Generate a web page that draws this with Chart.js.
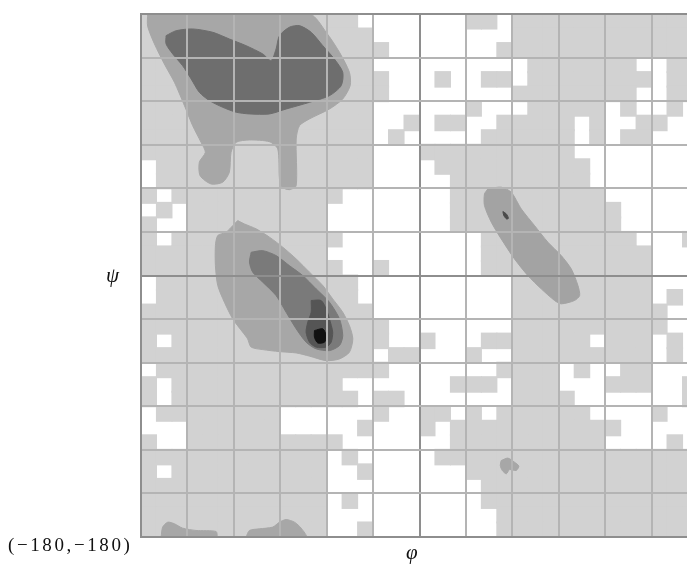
<!DOCTYPE html>
<html>
<head>
<meta charset="utf-8">
<script src="https://cdn.jsdelivr.net/npm/chart.js@4.4.1/dist/chart.umd.min.js"></script>
<style>
  html, body { margin: 0; padding: 0; background: #fff; overflow: hidden; }
  #wrap { position: absolute; left: 0; top: 0; width: 720px; height: 565px; }
  .lbl { position: absolute; font-family: "Liberation Serif", "DejaVu Serif", serif; color: #111; white-space: nowrap; line-height: 1; }
</style>
</head>
<body>
<div id="wrap"><canvas id="rama"></canvas></div>
<div class="lbl" style="left:106px; top:265px; font-size:21px; font-style:italic;">ψ</div>
<div class="lbl" style="left:406px; top:542px; font-size:21px; font-style:italic;">φ</div>
<div class="lbl" style="left:8px; top:535px; font-size:19px; letter-spacing:2.6px;">(−180,−180)</div>
<script>
// 10 degree cells, rows from psi=180 down to -180, columns phi -180 -> 180
// '1' = inside the outer (light) contour
const lightRows = [
  "111111111111110000000110111111111111",
  "111111111111111000000000111111111111",
  "111111111111111100000001111111111111",
  "111111111111111000000000011111110011",
  "111111111111111100010011011111111011",
  "111111111111111100000000111111110011",
  "111111111111111000000100011111010010",
  "111111111111111001011001111101001100",
  "111111111111111010000011111101011000",
  "111111111111111000111111111100000000",
  "011111111111111000011111111110000000",
  "011111111111111000001111111110000000",
  "101111111111100000001111111111000000",
  "010111111111000000001111111111100000",
  "100111111111000000001111111111100000",
  "101111111111100000000011111111110001",
  "111111111111000000000011111111111000",
  "111111111111100100000011111111111000",
  "011111111111110000000000111111111000",
  "011111111111110000000000111111111010",
  "111111111111111000000000111111111100",
  "111111111111111100000000111111111100",
  "101111111111111100100011111110111010",
  "111111111111111011000100111111111010",
  "011111111111111100000001111010011000",
  "101111111111100000001110111000111001",
  "101111111111110110000000111100000001",
  "011111111000000100110101111110000100",
  "000111111000001000101111111111100000",
  "100111111111100000001111111111000010",
  "111111111111010000011111111111111111",
  "101111111111001000000111111111111111",
  "111111111111000000000011111111111111",
  "111111111111010000000011111111111111",
  "111111111111000000000001111111111111",
  "111111111111001000000001111111111111"
];

// contour outlines, [phi, psi]
const betaMedium = [[-175.7,180],[-71.1,180],[-60.3,167.4],[-51.7,153.6],[-45.3,139.9],[-44.8,130.7],[-49.6,121.5],[-58.2,114.6],[-71.1,107.8],[-77.6,103.1],[-79.7,94.0],[-79.7,61.9],[-84.1,59.1],[-88.8,60.8],[-90.5,66.5],[-91.6,87.1],[-97.0,92.1],[-109.9,93.3],[-118.5,91.7],[-121.8,84.8],[-122.9,71.1],[-127.2,64.2],[-134.7,63.0],[-141.8,68.7],[-142.3,78.0],[-138.4,84.8],[-141.2,91.7],[-146.6,103.1],[-151.9,116.9],[-158.4,133.0],[-164.9,145.6],[-171.3,159.4],[-175.7,171.6]];
const betaDark = [[-163.8,165.1],[-157.3,168.5],[-146.6,169.7],[-133.6,167.4],[-122.9,162.8],[-112.1,158.2],[-101.3,152.5],[-95.9,147.9],[-92.7,155.9],[-90.5,165.1],[-84.1,170.9],[-77.6,172.0],[-70.0,167.4],[-62.5,158.2],[-55.0,149.0],[-49.6,139.9],[-50.6,130.7],[-58.2,123.8],[-71.1,119.2],[-86.2,114.6],[-97.0,111.2],[-109.9,111.2],[-118.5,112.4],[-127.2,115.8],[-135.8,120.4],[-142.3,126.1],[-147.6,135.3],[-153.1,144.4],[-159.5,152.5],[-163.8,159.4]];
const betaWrapA = [[-167.0,-180],[-166.0,-173.2],[-162.7,-169.8],[-158.4,-170.9],[-153.1,-173.9],[-144.4,-175.5],[-131.5,-176.2],[-131.2,-180]];
const betaWrapB = [[-112.1,-180],[-109.9,-175.5],[-103.5,-174.4],[-94.9,-173.2],[-90.5,-169.8],[-86.2,-168.0],[-80.8,-169.8],[-76.5,-173.9],[-73.3,-180]];
const alphaMedium = [[-117.5,37.8],[-113.2,35.5],[-105.6,32.1],[-97.0,26.4],[-88.4,19.5],[-79.7,11.4],[-71.1,2.3],[-62.5,-6.9],[-56.1,-16.1],[-49.6,-25.3],[-45.3,-34.5],[-43.1,-43.6],[-45.3,-52.8],[-51.7,-57.4],[-60.3,-58.6],[-71.1,-55.5],[-79.7,-53.3],[-90.5,-52.4],[-101.3,-51.0],[-108.8,-49.3],[-111.1,-43.6],[-114.3,-39.0],[-120.7,-29.9],[-126.1,-18.4],[-130.4,-6.9],[-131.9,6.8],[-131.9,20.6],[-130.4,27.5],[-125.0,29.8],[-120.7,34.3]];
const alphaDark = [[-108.8,16.0],[-101.3,17.1],[-92.7,13.7],[-84.1,6.8],[-75.5,0],[-66.8,-9.2],[-58.2,-18.4],[-51.7,-29.9],[-49.6,-41.4],[-51.7,-48.2],[-58.2,-51.7],[-66.8,-50.5],[-73.3,-45.9],[-79.7,-36.7],[-86.2,-25.3],[-92.7,-13.8],[-101.3,-4.6],[-107.8,2.3],[-109.9,9.2]];
const alphaDarker = [[-70.0,-17.2],[-63.6,-17.2],[-60.3,-23.0],[-58.2,-29.9],[-56.1,-39.0],[-57.1,-45.9],[-60.3,-49.3],[-66.8,-49.3],[-71.1,-45.9],[-73.3,-39.0],[-72.2,-32.1],[-70.0,-25.3]];
const alphaCore = [[-67.9,-37.9],[-62.5,-36.7],[-60.3,-41.4],[-61.4,-45.9],[-65.8,-46.4],[-67.9,-42.5]];
const leftMedium = [[44.2,59.6],[52.8,60.8],[59.3,57.3],[65.8,45.8],[74.4,34.3],[83.0,22.9],[91.6,13.7],[98.1,4.5],[102.4,-6.9],[103.5,-13.8],[100.2,-17.2],[91.6,-19.5],[87.3,-17.2],[78.7,-9.2],[70.0,0],[61.4,11.4],[52.8,25.2],[46.4,36.7],[42.0,48.1],[42.0,56.1]];
const leftMark = [[53.9,44.0],[56.1,42.4],[57.5,39.4],[56.3,38.9],[54.5,41.2]];
const gammaSpot = [[52.8,-127.4],[57.1,-125.7],[61.4,-128.5],[64.2,-131.2],[62.5,-134.2],[58.2,-133.6],[56.1,-136.5],[53.5,-134.2],[52.2,-130.7]];

const cells = [];
lightRows.forEach((row, j) => {
  for (let i = 0; i < row.length; i++) {
    if (row[i] === '1') cells.push({ x: -175 + 10 * i, y: 175 - 10 * j });
  }
});

function shape(pts, color) {
  const data = pts.map(p => ({ x: p[0], y: p[1] }));
  data.push({ x: pts[0][0], y: pts[0][1] });
  return {
    data: data,
    showLine: true,
    fill: 'shape',
    tension: 0.25,
    backgroundColor: color,
    borderColor: color,
    borderWidth: 1,
    pointRadius: 0,
    clip: 0
  };
}

// first dataset is drawn on top
const datasets = [
  shape(alphaCore, '#111111'),
  shape(leftMark, '#4a4a4a'),
  shape(alphaDarker, '#555555'),
  shape(alphaDark, '#7a7a7a'),
  shape(betaDark, '#6e6e6e'),
  shape(alphaMedium, '#a7a7a7'),
  shape(betaMedium, '#a7a7a7'),
  shape(betaWrapA, '#a7a7a7'),
  shape(betaWrapB, '#a7a7a7'),
  shape(leftMedium, '#a3a3a3'),
  shape(gammaSpot, '#a7a7a7'),
  {
    data: cells,
    pointStyle: 'rect',
    pointRadius: 11.7,
    pointBorderWidth: 0,
    backgroundColor: '#d2d2d2',
    clip: 0
  }
];

const gridColor = c => (c.tick && (c.tick.value === 0 || c.tick.value === 180)) ? '#8e8e8e' : '#b4b4b4';

new Chart(document.getElementById('rama'), {
  type: 'scatter',
  data: { datasets: datasets },
  options: {
    responsive: true,
    maintainAspectRatio: false,
    animation: false,
    layout: { padding: { left: 141, top: 14, right: 22, bottom: 28 } },
    plugins: { legend: { display: false }, tooltip: { enabled: false } },
    scales: {
      x: {
        type: 'linear', min: -180, max: 180,
        ticks: { stepSize: 30, display: false },
        grid: { color: gridColor, lineWidth: 2, drawTicks: false, z: 1 },
        border: { display: true, color: '#8e8e8e', width: 2, z: 2 }
      },
      y: {
        type: 'linear', min: -180, max: 180,
        ticks: { stepSize: 30, display: false },
        grid: { color: gridColor, lineWidth: 2, drawTicks: false, z: 1 },
        border: { display: true, color: '#8e8e8e', width: 2, z: 2 }
      }
    }
  }
});
</script>
</body>
</html>
